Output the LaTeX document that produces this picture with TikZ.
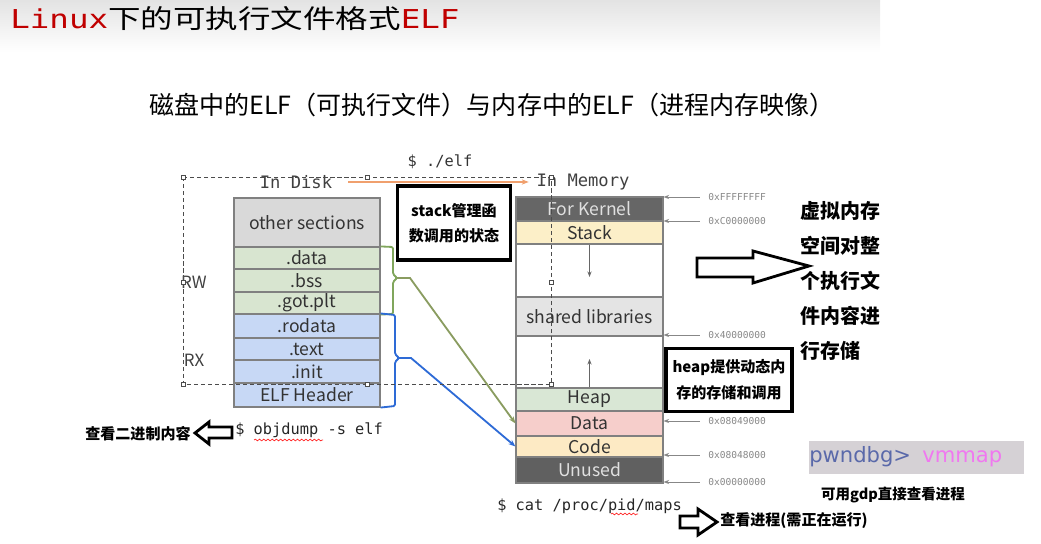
\documentclass[tikz,border=0pt]{standalone}
\usepackage{fontspec}
\setmainfont{Noto Sans CJK SC}
\setmonofont{DejaVu Sans Mono}
\newfontfamily\pwnfont{DejaVu Sans}
\usetikzlibrary{arrows.meta, decorations.pathmorphing}
\definecolor{titlered}{RGB}{192, 0, 0}
\definecolor{segline}{RGB}{128, 128, 128}
\definecolor{othergray}{RGB}{217, 217, 217}
\definecolor{rwgreen}{RGB}{216, 229, 208}
\definecolor{rxblue}{RGB}{199, 216, 245}
\definecolor{kerngray}{RGB}{102, 102, 102}
\definecolor{stackyel}{RGB}{252, 239, 200}
\definecolor{libgray}{RGB}{228, 228, 228}
\definecolor{heapgreen}{RGB}{217, 231, 213}
\definecolor{datapink}{RGB}{246, 206, 203}
\definecolor{codeyel}{RGB}{253, 234, 196}
\definecolor{unusedgray}{RGB}{96, 96, 96}
\definecolor{rwline}{RGB}{128, 166, 92}
\definecolor{rwdiag}{RGB}{138, 156, 96}
\definecolor{rxline}{RGB}{46, 107, 214}
\definecolor{runorange}{RGB}{240, 160, 110}
\definecolor{addrgray}{RGB}{135, 135, 135}
\definecolor{pwnbg}{RGB}{213, 209, 213}
\definecolor{pwnblue}{RGB}{90, 105, 170}
\definecolor{pwnpink}{RGB}{240, 120, 240}
\newcommand{\pxl}{0.025cm}

\tikzset{
  seg/.style={draw=segline, line width=0.8pt, inner sep=0pt, minimum width=146*\pxl,
    text=black!80, font=\fontsize{12.5}{14}\selectfont},
  mem/.style={seg, minimum width=147*\pxl},
  note/.style={draw=black, line width=2.2pt, fill=white, align=center, inner sep=0pt},
  cmd/.style={font=\ttfamily\fontsize{10.9}{13}\selectfont, inner sep=0pt, anchor=west},
  addr/.style={font=\ttfamily\fontsize{6.8}{8}\selectfont, text=addrgray, inner sep=0pt, anchor=west},
  addrline/.style={addrgray, line width=0.6pt, -{Stealth[length=4pt, width=3pt]}},
  hint/.style={font=\bfseries\fontsize{10.7}{13}\selectfont, inner sep=0pt},
  hollow/.style={draw=black, line width=2pt, fill=white, line join=miter},
  handle/.style={draw=black!70, fill=white, line width=0.5pt},
  squiggle/.style={red!85, line width=0.5pt, decorate,
    decoration={snake, amplitude=0.6pt, segment length=3pt}}
}

\begin{document}
\begin{tikzpicture}[x=\pxl, y=-\pxl]

  \useasboundingbox (0, 0) rectangle (1041, 544);
  \shade[top color=gray!22, bottom color=white] (0, 0) rectangle (880, 52);

  \node[anchor=west, inner sep=0pt] (title) at (10, 19)
    {\fontsize{18.5}{20}\selectfont\scalebox{1.25}[1]{\textcolor{titlered}{\ttfamily Linux}下的可执行文件格式\textcolor{titlered}{\ttfamily ELF}}};
  \node[font=\fontsize{17.8}{20}\selectfont] (subtitle) at (492, 105)
    {磁盘中的ELF（可执行文件）与内存中的ELF（进程内存映像）};

  % disk side
  \node[font=\ttfamily\fontsize{12.2}{14}\selectfont, text=black!75] (indisk) at (296, 182) {In Disk};
  \node[font=\ttfamily\fontsize{12.2}{14}\selectfont, text=black!75] (inmem) at (583, 182) {In Memory};
  \node[cmd, anchor=center, text=black!80] (runelf) at (440, 162) {\$ ./elf};
  \draw[runorange, line width=0.9pt, -{Stealth[length=5pt]}, shorten <=8pt, shorten >=2pt]
    (indisk.east) -- (inmem.west);

  \node[seg, fill=othergray, minimum height=49*\pxl] (other) at (307, 222.5) {other sections};
  \node[seg, fill=rwgreen, minimum height=22*\pxl] (gdata) at (307, 258) {.data};
  \node[seg, fill=rwgreen, minimum height=23*\pxl] (gbss) at (307, 280.5) {.bss};
  \node[seg, fill=rwgreen, minimum height=22*\pxl] (gotplt) at (307, 303) {.got.plt};
  \node[seg, fill=rxblue, minimum height=24*\pxl] (rodata) at (307, 326) {.rodata};
  \node[seg, fill=rxblue, minimum height=22*\pxl] (text) at (307, 349) {.text};
  \node[seg, fill=rxblue, minimum height=23*\pxl] (init) at (307, 371.5) {.init};
  \node[seg, fill=rxblue, minimum height=24*\pxl] (elfhdr) at (307, 395) {ELF Header};

  \node[font=\fontsize{12}{14}\selectfont, text=black!75] (rw) at (194, 282) {RW};
  \node[font=\fontsize{12}{14}\selectfont, text=black!75] (rx) at (194, 360) {RX};

  % memory side
  \node[mem, fill=kerngray, text=black!12, minimum height=24*\pxl] (mkern) at (589.5, 209) {For Kernel};
  \node[mem, fill=stackyel, minimum height=23*\pxl] (mstack) at (589.5, 232.5) {Stack};
  \node[mem, fill=white, minimum height=53*\pxl] (mgap1) at (589.5, 270.5) {};
  \node[mem, fill=libgray, minimum height=39*\pxl] (mlib) at (589.5, 316.5) {shared libraries};
  \node[mem, fill=white, minimum height=52*\pxl] (mgap2) at (589.5, 362) {};
  \node[mem, fill=heapgreen, minimum height=23*\pxl] (mheap) at (589.5, 399.5) {Heap};
  \node[mem, fill=datapink, minimum height=25*\pxl] (mdata) at (589.5, 423.5) {Data};
  \node[mem, fill=codeyel, minimum height=21*\pxl] (mcode) at (589.5, 446.5) {Code};
  \node[mem, fill=unusedgray, text=black!12, minimum height=26*\pxl] (munused) at (589.5, 470) {Unused};

  \coordinate (stackgrow) at (589.5, 277);
  \coordinate (heapgrow) at (589.5, 359);
  \draw[black!60, line width=0.7pt, -{Stealth[length=4pt, width=3pt]}] (mstack.south) -- (stackgrow);
  \draw[black!60, line width=0.7pt, -{Stealth[length=4pt, width=3pt]}] (mheap.north) -- (heapgrow);

  \node[addr] (a0) at (708, 197) {0xFFFFFFFF};
  \node[addr] (a1) at (708, 221) {0xC0000000};
  \node[addr] (a2) at (708, 335) {0x40000000};
  \node[addr] (a3) at (708, 421) {0x08049000};
  \node[addr] (a4) at (708, 455) {0x08048000};
  \node[addr] (a5) at (708, 482) {0x00000000};
  \foreach \a in {a0, a1, a2, a3, a4, a5}
    \draw[addrline] ([xshift=-6pt]\a.west) -- (\a.west -| mkern.east);

  % brackets
  \coordinate (rwtip) at (397, 278);
  \coordinate (rxtip) at (399, 358);
  \draw[rwline, line width=1.3pt, rounded corners=1pt]
    (gdata.north east) -- (393, 247) -- (393, 274) -- (rwtip) -- (393, 282) -- (393, 314) -- (gotplt.south east);
  \draw[rwdiag, line width=1.3pt, -{Stealth[length=5pt]}] (rwtip) -- (410, 278) -- (mdata.west);
  \draw[rxline, line width=1.3pt, rounded corners=1pt]
    (rodata.north east) -- (395, 315) -- (395, 354) -- (rxtip) -- (395, 362) -- (395, 406) -- (elfhdr.south east);
  \draw[rxline, line width=1.3pt, -{Stealth[length=5pt]}] (rxtip) -- (411, 358) -- (mcode.west);

  % selection frame
  \draw[black!70, line width=0.5pt, dash pattern=on 3pt off 2pt] (183, 177) rectangle (551, 384);
  \foreach \hx/\hy in {183/177, 367/177, 551/177, 183/282, 551/282, 183/384, 367/384, 551/384}
    \draw[handle] (\hx - 2, \hy - 2) rectangle (\hx + 2, \hy + 2);

  % commands
  \node[cmd, text=black!85] (objdump) at (235, 430) {\$ objdump -s elf};
  \node[cmd, text=black!85] (catmaps) at (497, 506) {\$ cat /proc/pid/maps};
  \draw[squiggle] (254, 440) -- (323, 440);
  \draw[squiggle] (611, 514) -- (638, 514);

  % notes
  \node[note, minimum width=113*\pxl, minimum height=74*\pxl,
    font=\bfseries\fontsize{10.7}{17.8}\selectfont] (stacknote) at (454, 223)
    {stack管理函\\数调用的状态};
  \node[note, minimum width=126*\pxl, minimum height=63*\pxl,
    font=\bfseries\fontsize{10.7}{18.5}\selectfont] (heapnote) at (729, 380)
    {heap提供动态内\\存的存储和调用};

  \draw[hollow] (697, 258) -- (753, 258) -- (753, 251) -- (809, 266) -- (753, 283) -- (753, 277) -- (697, 277) -- cycle;
  \node[anchor=west, inner sep=0pt, align=left, font=\bfseries\fontsize{14.2}{24.9}\selectfont] (vmtext) at (800, 281)
    {虚拟内存\\空间对整\\个执行文\\件内容进\\行存储};

  \draw[hollow] (232, 427) -- (209, 427) -- (209, 422) -- (195, 433) -- (209, 444) -- (209, 438) -- (232, 438) -- cycle;
  \node[hint] (binhint) at (138, 434) {查看二进制内容};

  \draw[hollow] (680, 516) -- (698, 516) -- (698, 509) -- (717, 522) -- (698, 535) -- (698, 528) -- (680, 528) -- cycle;
  \node[hint, anchor=west] (prochint) at (720, 521) {查看进程(需正在运行)};

  \node[fill=pwnbg, minimum width=215*\pxl, minimum height=33*\pxl, inner sep=0pt] (pwnbox) at (916, 458) {};
  \node[anchor=west, inner sep=0pt, font=\pwnfont\fontsize{15}{17}\selectfont] (pwncmd) at (809, 457)
    {\textcolor{pwnblue}{pwndbg>}\hspace{8pt}\textcolor{pwnpink}{vmmap}};
  \node[hint, font=\bfseries\fontsize{10.3}{12}\selectfont] (gdbhint) at (893, 495) {可用gdp直接查看进程};

\end{tikzpicture}
\end{document}
